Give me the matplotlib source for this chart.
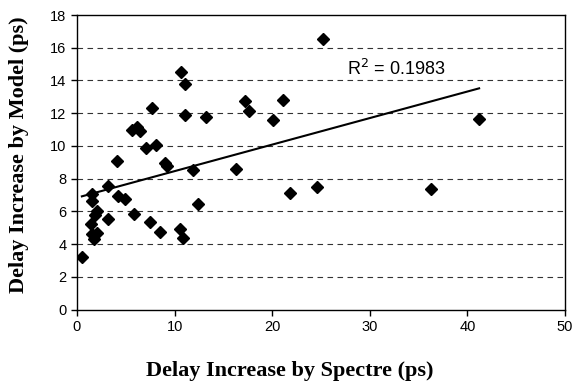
import numpy as np
import matplotlib
matplotlib.use("Agg")
import matplotlib.pyplot as plt

# Delay increase: Spectre (x) vs model (y), ps
spectre = [0.5, 1.4, 1.5, 1.7, 2.0, 2.0, 1.85, 1.55, 1.5, 3.15, 3.2, 4.25,
           4.95, 5.8, 4.05, 5.65, 6.1, 6.5, 7.1, 8.1, 7.65, 9.05, 9.2, 7.5,
           8.5, 10.6, 10.9, 10.65, 11.05, 11.1, 11.85, 12.35, 13.2, 16.3,
           17.2, 17.65, 20.05, 21.1, 21.8, 24.6, 25.2, 36.3, 41.2]
model = [3.2, 5.2, 4.6, 4.3, 4.7, 6.0, 5.75, 7.05, 6.65, 7.55, 5.55, 6.95,
         6.75, 5.85, 9.05, 10.95, 11.15, 10.9, 9.9, 10.05, 12.3, 8.95, 8.8,
         5.35, 4.75, 4.95, 4.35, 14.5, 13.8, 11.9, 8.5, 6.45, 11.75, 8.6,
         12.75, 12.15, 11.6, 12.8, 7.15, 7.5, 16.55, 7.35, 11.65]
r2_label = "R$^2$ = 0.1983"

sans = "Liberation Sans"
serif = "Liberation Serif"

fig = plt.figure(figsize=(5.72, 3.9), dpi=100)
ax = fig.add_axes([0.1346, 0.2064, 0.8532, 0.7551])

ax.plot(spectre, model, linestyle="none", marker="D", ms=6, color="black",
        zorder=3)

# linear trendline over the data range
slope, icpt = np.polyfit(spectre, model, 1)
xs = np.array([min(spectre), max(spectre)])
ax.plot(xs, slope * xs + icpt, color="black", lw=1.5, zorder=2)

ax.text(27.7, 14.68, r2_label, fontsize=13, family=sans, va="center")

ax.set_xlim(0, 50)
ax.set_ylim(0, 18)
ax.set_xticks(range(0, 51, 10))
ax.set_yticks(range(0, 19, 2))
for y in range(2, 18, 2):
    ax.axhline(y, color="#333333", lw=0.8, ls=(0, (5, 4)), zorder=1)

ax.tick_params(direction="out", length=4, width=1, labelsize=10.5, colors="black")
for lab in ax.get_xticklabels() + ax.get_yticklabels():
    lab.set_family(sans)
for s in ax.spines.values():
    s.set_linewidth(1)

ax.set_xlabel("Delay Increase by Spectre (ps)", family=serif, fontweight="bold",
              fontsize=16)
ax.set_ylabel("Delay Increase by Model (ps)", family=serif, fontweight="bold",
              fontsize=16)
# Excel-style title placement (x title sits a bit left of centre)
ax.xaxis.set_label_coords(0.436, -0.175)
ax.yaxis.set_label_coords(-0.098, 0.525)

fig.savefig("out.png", dpi=100)
